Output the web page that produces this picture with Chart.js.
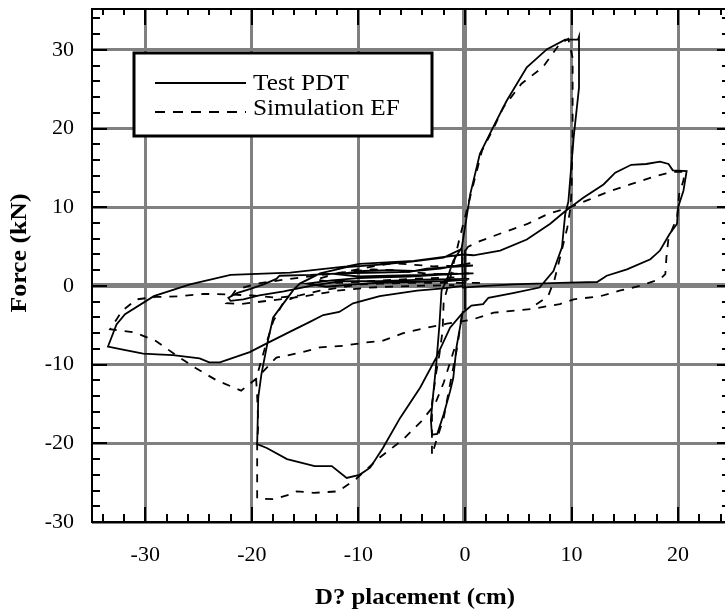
<!DOCTYPE html>
<html><head><meta charset="utf-8">
<script src="https://cdn.jsdelivr.net/npm/chart.js@4.4.1/dist/chart.umd.min.js"></script>
<style>html,body{margin:0;padding:0;background:#fff}canvas{display:block}</style>
</head><body>
<canvas id="c" width="725" height="614"></canvas>
<script>
// ---- data (displacement cm, force kN); null separates line pieces ----
const testX = [-0.2,-0.3,-0.8,-1.1,-1.4,-2.0,-2.6,-3.1,-3.2,-3.0,-2.7,-2.4,-2.2,-1.7,-1.1,-0.3,0.5,1.4,2.8,3.9,5.8,7.7,9.4,10.6,10.7,10.7,10.2,9.7,9.4,9.1,8.3,7.0,4.5,2.2,1.7,0.6,-0.2,-1.4,-2.7,-4.2,-6.1,-7.7,-8.9,-9.9,-11.1,-12.5,-14.1,-16.7,-18.6,-19.5,-19.4,-19.1,-18.5,-18.0,-16.1,-15.5,-13.6,-11.1,-8.0,-5.0,-2.0,-0.3,-0.2,2.0,4.5,8.9,12.4,13.3,15.2,17.4,18.3,19.2,19.9,20.0,20.5,20.8,19.5,19.1,18.3,17.0,15.6,14.1,13.0,11.1,9.4,8.0,5.8,3.3,0.8,-0.2,-4.8,-9.9,-11.1,-16.4,-22.0,-25.8,-29.2,-31.9,-32.7,-33.5,-32.1,-30.2,-28.9,-27.4,-24.9,-24.0,-23.0,-20.2,-18.6,-16.4,-14.6,-13.3,-11.8,-10.5,-8.0,-4.5,-2.0,-0.2,
  null,0.75,-1.5,-3.6,-5.2,-8.0,-11.7,-14.5,-17.4,-17.7,-18.9,-20.2,-21.4,-22.2,-22.0,-20.8,-19.3,-17.0,-14.5,-11.7,-8.0,-4.0,0.4,
  null,0.4,-2.5,-5.2,-8.0,-10.0,-12.5,-14.8,-13.0,-10.5,-8.0,-5.0,-2.0,0.3,
  null,0.5,-2.3,-4.8,-7.0,-9.5,-12.0,-10.0,-7.0,-4.0,-1.0,
  null,0.0,0.0];
const testY = [-3.2,-4.0,-7.8,-11.7,-13.4,-16.3,-18.8,-18.9,-17.0,-14.0,-10.0,-5.0,-0.6,0.8,3.2,4.9,11.7,16.8,20.6,23.5,27.8,30.1,31.3,31.3,31.7,25.2,18.9,10.7,9.1,4.9,1.9,-0.2,-0.9,-1.5,-2.3,-2.5,-3.4,-5.3,-9.1,-12.9,-16.8,-20.6,-23.1,-24.0,-24.4,-22.9,-22.9,-22.0,-20.6,-20.1,-14.2,-11.2,-7.0,-4.0,-0.5,0.3,1.6,2.4,2.7,3.1,3.6,4.7,-0.2,0.0,0.2,0.4,0.5,1.3,2.1,3.4,4.5,6.6,7.9,10.0,12.1,14.6,14.7,15.5,15.8,15.5,15.4,14.4,12.9,11.2,9.5,7.9,5.9,4.5,3.9,4.0,3.2,2.8,2.5,1.7,1.4,0.2,-1.3,-3.6,-4.9,-7.7,-8.1,-8.6,-8.7,-8.8,-9.2,-9.7,-9.7,-8.4,-7.3,-5.8,-4.6,-3.7,-3.3,-2.2,-1.3,-0.6,-0.3,0.0,
  null,2.6,2.4,2.2,1.8,1.7,1.6,1.4,1.3,0.9,0.2,-0.4,-0.9,-1.5,-1.9,-1.7,-1.2,-0.7,0.0,0.6,0.6,0.8,0.9,
  null,1.6,1.4,1.2,1.1,1.0,0.7,0.3,-0.1,0.2,0.4,0.5,0.6,0.8,
  null,2.9,2.2,1.9,2.0,1.9,1.5,1.2,1.3,1.4,1.6,
  null,4.6,-3.0];

const simX = [-0.3,-0.5,-0.8,-1.4,-2.0,-2.7,-3.1,-3.1,-3.1,-2.7,-2.4,-2.1,-2.0,-1.3,-0.5,0.0,0.8,1.6,2.7,3.6,5.3,7.3,8.9,9.7,10.1,10.1,10.0,9.9,9.6,8.9,8.4,7.8,6.4,
  null,-1.0,-2.0,-2.8,-4.1,-5.8,-8.0,-10.2,-11.9,-14.2,-15.8,-16.4,-18.0,-19.5,-19.5,-19.4,-19.5,-19.6,-18.8,-18.0,-17.0,-15.5,
  null,1.4,-2.0,-4.8,-8.0,-10.0,-11.7,-13.6,-15.5,-17.7,-20.0,-22.0,-24.5,-26.7,-29.0,-30.8,-32.2,-33.3,-31.0,-29.0,-27.0,-25.2,-23.3,-21.0,-19.6,-17.7,-15.5,-13.6,-11.4,-9.4,-7.8,-5.8,-3.9,-1.7,0.6,2.7,6.4,8.9,10.2,12.7,14.5,16.4,18.3,18.8,18.9,19.1,19.9,20.1,20.5,20.6,19.5,18.0,15.5,13.3,11.7,9.8,7.7,5.8,3.6,1.4,0.3,-0.2,-0.3,
  null,0.8,-3.0,-6.7,-8.6,-11.0,-14.0,-17.0,-19.5,-21.5,-22.4,-21.0,-18.0,-15.0,-12.0,-9.0,-5.0,-1.0,
  null,0.5,-3.0,-6.7,-9.0,-12.0,-14.0,-12.0,-9.0,-5.0,-1.0];
const simY = [-3.8,-5.7,-8.3,-12.5,-16.8,-19.7,-21.5,-18.0,-15.0,-11.0,-8.7,-5.7,-2.0,1.5,6.1,8.7,13.0,17.2,20.1,22.7,25.7,27.8,30.8,31.4,29.0,20.0,12.0,10.0,7.4,3.5,0.8,-1.3,-2.6,
  null,-8.0,-12.3,-15.0,-17.2,-19.5,-21.8,-24.5,-26.1,-26.3,-26.1,-26.5,-27.1,-27.0,-20.0,-17.6,-14.0,-11.8,-8.0,-4.5,-2.0,-1.2,
  null,0.4,0.4,0.4,0.3,0.2,-0.2,-0.6,-1.2,-1.5,-1.2,-1.1,-1.0,-1.3,-1.4,-1.7,-3.2,-5.5,-5.9,-7.0,-8.9,-10.5,-12.0,-13.3,-11.8,-9.1,-8.5,-7.8,-7.6,-7.2,-7.0,-6.0,-5.4,-4.8,-4.3,-3.4,-2.9,-2.3,-1.7,-1.3,-0.6,0.0,0.85,1.5,3.6,6.1,8.7,11.7,13.4,14.5,14.5,14.0,12.9,11.9,11.0,10.0,9.1,7.85,6.8,5.7,5.0,4.0,2.6,
  null,1.6,1.5,2.0,2.1,1.8,1.3,0.8,0.3,-0.5,-2.2,-2.3,-1.8,-1.3,-0.6,-0.2,0.0,0.1,
  null,2.6,2.5,2.9,2.4,1.6,0.8,0.4,0.6,0.9,1.1];

const xTickValues = [-30,-20,-10,0,10,20];
const yTickValues = [-30,-20,-10,0,10,20,30];
const seriesNames = ['Test PDT','Simulation EF'];
const xTitle = 'D? placement (cm)';
const yTitle = 'Force (kN)';

const toPts = (xs, ys) => xs.map((x, i) => ({x: x, y: ys[i]}));

const SERIF = '"Liberation Serif", "Times New Roman", serif';

function stretchText(c, txt, x, y, sx) {
  c.save();
  c.translate(x, y);
  c.scale(sx, 1);
  c.fillText(txt, 0, 0);
  c.restore();
}

const decor = {
  id: 'decor',
  beforeDraw(chart) {
    const c = chart.ctx;
    c.save(); c.fillStyle = '#fff'; c.fillRect(0, 0, chart.width, chart.height); c.restore();
  },
  afterDraw(chart) {
    const c = chart.ctx, a = chart.chartArea, xs = chart.scales.x, ys = chart.scales.y;
    c.save();
    c.strokeStyle = '#000';
    c.lineWidth = 2;
    c.beginPath();
    c.moveTo(a.right + 5, a.top); c.lineTo(a.left, a.top); c.lineTo(a.left, a.bottom); c.lineTo(a.right + 5, a.bottom);
    c.stroke();
    c.beginPath();
    for (let v = -34; v <= 24; v += 2) {
      const p = Math.round(xs.getPixelForValue(v));
      const major = v % 10 === 0;
      c.moveTo(p, a.bottom); c.lineTo(p, a.bottom - (major ? 15 : 8));
      c.moveTo(p, a.top); c.lineTo(p, a.top + (major ? 16 : 6));
    }
    for (let v = -30; v <= 34; v += 2) {
      const p = Math.round(ys.getPixelForValue(v));
      const major = v % 10 === 0;
      c.moveTo(a.left, p); c.lineTo(a.left + (major ? 15 : 8), p);
      c.moveTo(a.right, p); c.lineTo(a.right - (major ? 8 : 3), p);
    }
    c.stroke();

    // legend
    const L = 134, T = 53, W = 298, H = 83;
    c.fillStyle = '#fff';
    c.fillRect(L, T, W, H);
    c.lineWidth = 3;
    c.strokeRect(L, T, W, H);
    c.lineWidth = 2;
    c.beginPath(); c.moveTo(155, 83); c.lineTo(246, 83); c.stroke();
    c.setLineDash([10, 8]);
    c.beginPath(); c.moveTo(155, 112); c.lineTo(246, 112); c.stroke();
    c.setLineDash([]);
    c.fillStyle = '#000';
    c.font = '23px ' + SERIF;
    c.textBaseline = 'alphabetic';
    c.textAlign = 'left';
    stretchText(c, seriesNames[0], 253, 90, 1.1);
    stretchText(c, seriesNames[1], 253, 115, 1.1);

    // axis titles
    c.font = 'bold 23px ' + SERIF;
    c.textAlign = 'center';
    c.textBaseline = 'middle';
    stretchText(c, xTitle, 415, 598, 1.08);
    c.translate(20, 253);
    c.rotate(-Math.PI / 2);
    stretchText(c, yTitle, 0, 0, 1.12);
    c.restore();
  }
};

const gridW = (ctx) => (ctx.tick && ctx.tick.value === 0) ? 5 : 3;

new Chart(document.getElementById('c'), {
  type: 'scatter',
  data: {
    datasets: [
      { label: seriesNames[0], data: toPts(testX, testY), showLine: true, spanGaps: false,
        borderColor: '#000', borderWidth: 1.8, pointRadius: 0, tension: 0, fill: false },
      { label: seriesNames[1], data: toPts(simX, simY), showLine: true, spanGaps: false,
        borderColor: '#000', borderWidth: 1.8, borderDash: [8, 8], pointRadius: 0, tension: 0, fill: false }
    ]
  },
  options: {
    responsive: false,
    animation: false,
    layout: { padding: { left: 0, top: 9, right: 0, bottom: 0 } },
    plugins: { legend: { display: false }, tooltip: { enabled: false } },
    scales: {
      x: {
        type: 'linear', min: -35, max: 24.4,
        afterBuildTicks: (s) => { s.ticks = xTickValues.map(v => ({ value: v })); },
        afterFit: (s) => { s.height = 92; s.paddingLeft = 0; s.paddingRight = 0; },
        grid: { color: '#808080', lineWidth: gridW, drawTicks: false },
        border: { display: false },
        ticks: { color: '#000', font: { family: SERIF, size: 22 }, padding: 20, maxRotation: 0 }
      },
      y: {
        type: 'linear', min: -30, max: 35.2,
        afterBuildTicks: (s) => { s.ticks = yTickValues.map(v => ({ value: v })); },
        afterFit: (s) => { s.width = 92; s.paddingTop = 0; s.paddingBottom = 0; },
        grid: { color: '#808080', lineWidth: gridW, drawTicks: false },
        border: { display: false },
        ticks: { color: '#000', font: { family: SERIF, size: 22 }, padding: 18 }
      }
    }
  },
  plugins: [decor]
});
</script>
</body></html>
